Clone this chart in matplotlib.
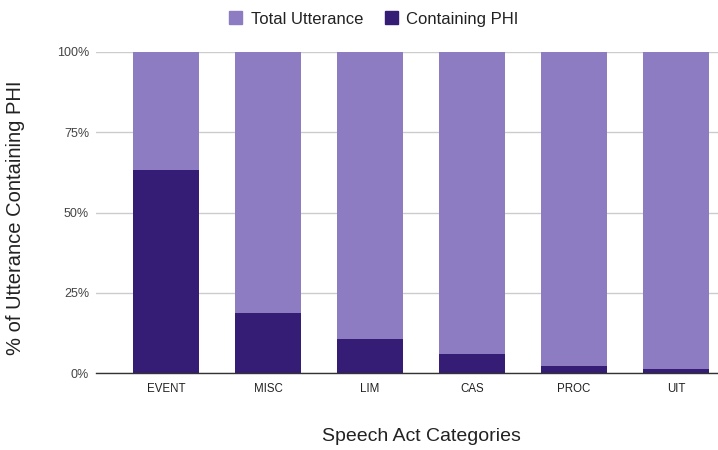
import matplotlib.pyplot as plt
import matplotlib.patches as mpatches
from matplotlib.ticker import FuncFormatter

plt.rcParams["font.family"] = ["Liberation Sans", "DejaVu Sans"]

# ─── DONNÉES ────────────────────────────────────────────────────────────────
categories = ["EVENT", "MISC", "LIM", "CAS", "PROC", "UIT"]
total_pct = [100, 100, 100, 100, 100, 100]
phi_pct = [63.2, 18.6, 10.7, 5.9, 2.2, 1.1]
y_ticks = [0, 25, 50, 75, 100]

LIGHT = "#8e7cc3"
DARK = "#351c75"

fig = plt.figure(figsize=(7.18, 4.5), dpi=100)
ax = fig.add_axes([96 / 718, 1 - 373 / 450, 1 - 96 / 718, (373 - 52) / 450])

x = range(len(categories))
width = 0.65
ax.bar(x, total_pct, width=width, color=LIGHT, zorder=2)
ax.bar(x, phi_pct, width=width, color=DARK, zorder=3)

ax.set_xlim(-0.686, 5.41)
ax.set_ylim(0, 100)
ax.set_yticks(y_ticks)
ax.yaxis.set_major_formatter(FuncFormatter(lambda v, p: f"{int(v)}%"))
ax.set_xticks(list(x))
ax.set_xticklabels(categories)

ax.grid(axis="y", color="#cccccc", linewidth=1, zorder=0)
ax.tick_params(axis="both", length=0)
ax.tick_params(axis="x", pad=7, labelsize=8.3, labelcolor="#222222")
ax.tick_params(axis="y", pad=5, labelsize=9, labelcolor="#444444")

for side in ["top", "right", "left"]:
    ax.spines[side].set_visible(False)
ax.spines["bottom"].set_color("#333333")
ax.spines["bottom"].set_linewidth(1)
ax.spines["bottom"].set_zorder(4)

ax.set_xlabel("Speech Act Categories", fontsize=14, color="#222222", va="center")
ax.xaxis.set_label_coords(0.5225, -0.199)
ax.set_ylabel("% of Utterance Containing PHI", fontsize=14.5, color="#222222", va="center")
ax.yaxis.set_label_coords(-0.129, 0.483)

handles = [mpatches.Patch(color=LIGHT, label="Total Utterance"),
           mpatches.Patch(color=DARK, label="Containing PHI")]
fig.legend(handles=handles, loc="center", bbox_to_anchor=(374 / 718, 1 - 19 / 450),
           ncol=2, frameon=False, fontsize=12, handlelength=0.8, handleheight=0.8,
           handletextpad=0.5, columnspacing=1.3, labelcolor="#222222")

fig.savefig("out.png", dpi=100)
plt.close()
